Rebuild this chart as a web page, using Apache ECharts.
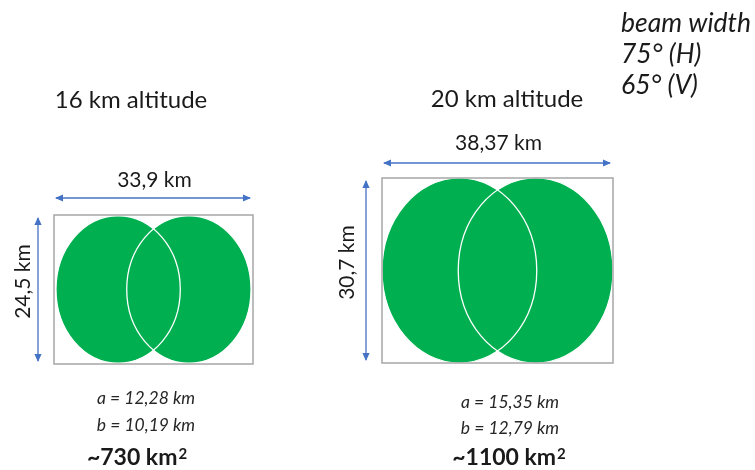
<!DOCTYPE html>
<html><head><meta charset="utf-8">
<script src="https://cdn.jsdelivr.net/npm/echarts@6/dist/echarts.min.js"></script>
<style>html,body{margin:0;padding:0;background:#fff}#c{width:755px;height:470px}</style>
</head><body><div id="c"></div>
<script>
// ---- data (km) ----
const altitudes = [16, 20];
const boxWidths = [33.9, 38.37];
const boxHeights = [24.5, 30.7];
const semiA = [12.28, 15.35];
const semiB = [10.19, 12.79];
const centerSpacing = [11.6, 12.6];   // distance between the two ellipse centres
const areas = [730, 1100];
const beamWidth = { H: 75, V: 65 };

// ---- layout / style ----
const FONT = 'Lato';
const GREEN = '#00B050', BLUE = '#4472C4', GRAY = '#A6A6A6', TXT = '#1a1a1a';
const panels = [
  { left: 54, top: 215, width: 199, height: 149, sx: 6.1, sy: 6.0, hArrow: 17, hLabel: 18, vArrow: 16, vLabel: 15, vShift: -8,
    titleX: 131, titleY: 100, abX: 146, aY: 398, bY: 425, areaX: 137, areaY: 458 },
  { left: 382, top: 178, width: 231, height: 185, sx: 6.05, sy: 6.03, hArrow: 15, hLabel: 20, vArrow: 16, vLabel: 19, vShift: -8,
    titleX: 507, titleY: 99, abX: 510, aY: 402, bY: 428, areaX: 509, areaY: 458 }
];

const fmt = v => String(v).replace('.', ',');

function arrowHead(x, y, dir) { // dir: 'l','r','u','d'
  const L = 8, Wd = 3.6;
  let pts;
  if (dir === 'l') pts = [[x, y], [x + L, y - Wd], [x + L, y + Wd]];
  if (dir === 'r') pts = [[x, y], [x - L, y - Wd], [x - L, y + Wd]];
  if (dir === 'u') pts = [[x, y], [x - Wd, y + L], [x + Wd, y + L]];
  if (dir === 'd') pts = [[x, y], [x - Wd, y - L], [x + Wd, y - L]];
  return { type: 'polygon', shape: { points: pts }, style: { fill: BLUE } };
}

function renderPanel(params, api) {
  const p = panels[params.seriesIndex];
  const cs = params.coordSys;
  const W = api.value(0), H = api.value(1), a = api.value(2), b = api.value(3), sp = api.value(4);
  const x0 = cs.x, y0 = cs.y, x1 = cs.x + cs.width, y1 = cs.y + cs.height;
  const cx = (x0 + x1) / 2, cy = (y0 + y1) / 2;
  const half = api.size([sp / 2, 0])[0];
  const sz = api.size([b, a]);
  const rx = sz[0], ry = sz[1];
  const ay = y0 - p.hArrow, ax = x0 - p.vArrow;
  const ch = [];
  const cents = [[cx - half, cy], [cx + half, cy]];
  cents.forEach(c => ch.push({ type: 'ellipse', shape: { cx: c[0], cy: c[1], rx: rx, ry: ry }, style: { fill: GREEN } }));
  cents.forEach(c => ch.push({ type: 'ellipse', shape: { cx: c[0], cy: c[1], rx: rx, ry: ry }, style: { fill: null, stroke: '#ffffff', lineWidth: 1.3 } }));
  ch.push({ type: 'rect', shape: { x: x0, y: y0, width: x1 - x0, height: y1 - y0 }, style: { fill: null, stroke: GRAY, lineWidth: 1.5 } });
  // horizontal dimension
  ch.push({ type: 'line', shape: { x1: x0 + 2, y1: ay, x2: x1 - 3, y2: ay }, style: { stroke: BLUE, lineWidth: 1.3 } });
  ch.push(arrowHead(x0 + 1, ay, 'l'), arrowHead(x1 - 2, ay, 'r'));
  ch.push({ type: 'text', style: { text: fmt(W) + ' km', x: cx + 1, y: ay - p.hLabel, align: 'center', verticalAlign: 'middle', font: '21px ' + FONT, fill: TXT } });
  // vertical dimension
  ch.push({ type: 'line', shape: { x1: ax, y1: y0 + 3, x2: ax, y2: y1 - 3 }, style: { stroke: BLUE, lineWidth: 1.3 } });
  ch.push(arrowHead(ax, y0 + 2, 'u'), arrowHead(ax, y1 - 2, 'd'));
  ch.push({ type: 'text', x: ax - p.vLabel, y: cy + p.vShift, rotation: Math.PI / 2,
    style: { text: fmt(H) + ' km', x: 0, y: 0, align: 'center', verticalAlign: 'middle', font: '21px ' + FONT, fill: TXT } });
  return { type: 'group', children: ch };
}

const chart = echarts.init(document.getElementById('c'), null, { renderer: 'canvas' });
const grids = panels.map(p => ({ left: p.left, top: p.top, width: p.width, height: p.height, show: false }));
const xAxes = panels.map((p, i) => ({ type: 'value', gridIndex: i, min: 0, max: p.width / p.sx, show: false }));
const yAxes = panels.map((p, i) => ({ type: 'value', gridIndex: i, min: 0, max: p.height / p.sy, show: false }));
const series = panels.map((p, i) => ({
  type: 'custom', xAxisIndex: i, yAxisIndex: i, clip: false, silent: true,
  renderItem: renderPanel,
  data: [[boxWidths[i], boxHeights[i], semiA[i], semiB[i], centerSpacing[i]]]
}));

const texts = [];
panels.forEach((p, i) => {
  texts.push({ type: 'text', x: p.titleX, y: p.titleY, style: { text: altitudes[i] + ' km altitude', font: '24px ' + FONT, fill: TXT, align: 'center', verticalAlign: 'middle' } });
  texts.push({ type: 'text', x: p.abX, y: p.aY, style: { text: 'a = ' + fmt(semiA[i]) + ' km', font: 'italic 17.5px ' + FONT, fill: '#262626', align: 'center', verticalAlign: 'middle' } });
  texts.push({ type: 'text', x: p.abX, y: p.bY, style: { text: 'b = ' + fmt(semiB[i]) + ' km', font: 'italic 17.5px ' + FONT, fill: '#262626', align: 'center', verticalAlign: 'middle' } });
  texts.push({ type: 'text', x: p.areaX, y: p.areaY, style: {
    text: '{m|~' + areas[i] + ' km}{s|2}', align: 'center', verticalAlign: 'middle', fill: TXT,
    rich: {
      m: { fontFamily: FONT, fontWeight: 'bold', fontSize: 23, fill: TXT, verticalAlign: 'bottom' },
      s: { fontFamily: FONT, fontWeight: 'bold', fontSize: 15, fill: TXT, verticalAlign: 'top', padding: [0, 0, 0, 1] }
    } } });
});
['beam width', beamWidth.H + '\u00B0 (H)', beamWidth.V + '\u00B0 (V)'].forEach((t, k) => {
  texts.push({ type: 'text', x: 621, y: 23 + k * 31, style: { text: t, font: 'italic 26.5px ' + FONT, fill: TXT, align: 'left', verticalAlign: 'middle' } });
});

chart.setOption({
  backgroundColor: '#ffffff',
  animation: false,
  grid: grids, xAxis: xAxes, yAxis: yAxes, series: series,
  graphic: { elements: texts }
});
</script></body></html>
